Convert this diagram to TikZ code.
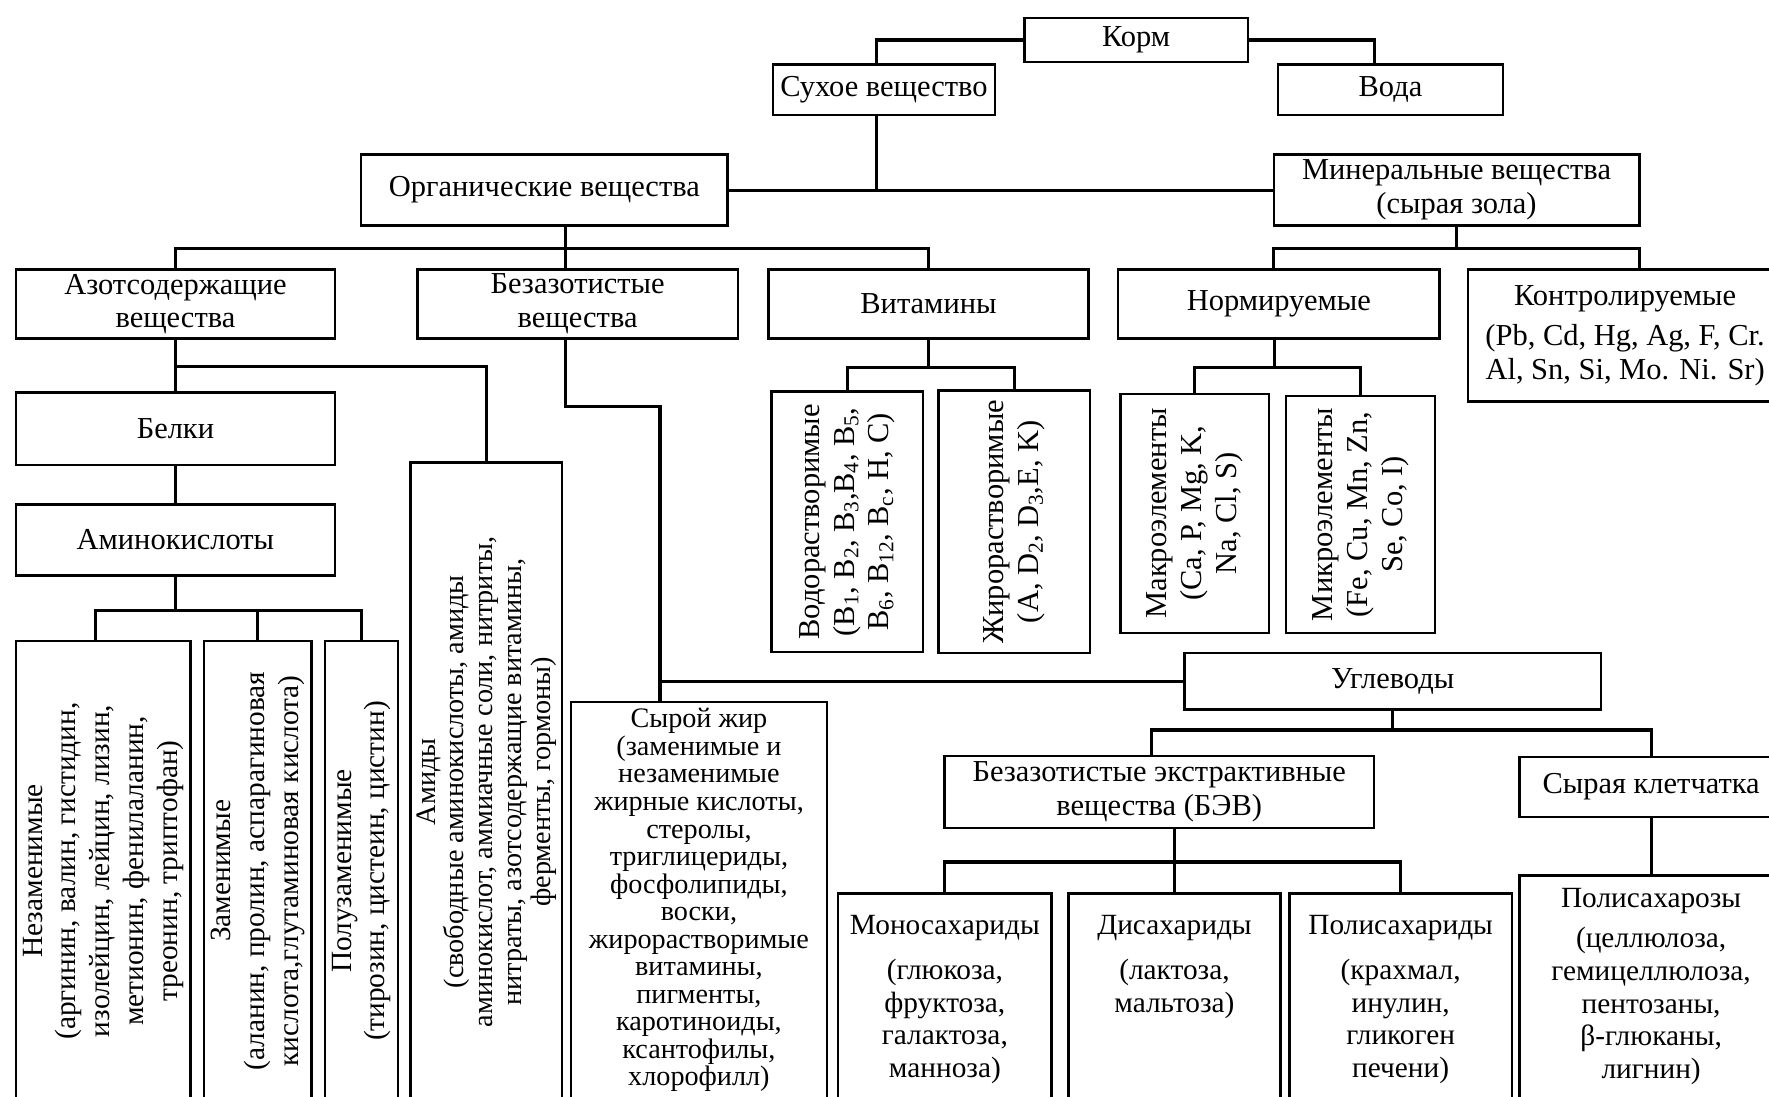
\documentclass[tikz,border=0pt]{standalone}
\usepackage{fontspec}
\setmainfont{Liberation Serif}
\usetikzlibrary{positioning}

\begin{document}
\begin{tikzpicture}[x=1pt, y=-1pt,
  tbox/.style={draw, line width=2.2pt, inner sep=0pt, align=center, font=\fontsize{27}{30}\selectfont},
  vtbox/.style={tbox, rotate=90, font=\fontsize{26}{30}\selectfont},
  txt/.style={inner sep=0pt, align=center, font=\fontsize{26}{29}\selectfont},
  link/.style={line width=2.8pt}]

    % Frame of the picture
    \useasboundingbox (0,0) rectangle (1568,972);
    \clip (0,0) rectangle (1568,972);

    % Top levels
    \node[tbox, minimum width=198pt, minimum height=39pt] (korm) at (1007,35.5) {Корм};
    \node[tbox, minimum width=197pt, minimum height=45pt] (dry) at (783.5,79.5) {Сухое вещество};
    \node[tbox, minimum width=199pt, minimum height=45pt] (water) at (1232.5,79.5) {Вода};
    \node[tbox, minimum width=325pt, minimum height=63pt] (org) at (482.5,168.5) {Органические вещества};
    \node[tbox, minimum width=324pt, minimum height=63pt] (mineral) at (1291,168.5) {Минеральные вещества\\(сырая зола)};

    % Third row
    \node[tbox, minimum width=283pt, minimum height=61pt] (azot) at (155.5,269.5) {Азотсодержащие\\вещества};
    \node[tbox, minimum width=284pt, minimum height=61pt] (bez) at (512,269.5) {Безазотистые\\вещества};
    \node[tbox, minimum width=284pt, minimum height=61pt] (vit) at (823,269.5) {Витамины};
    \node[tbox, minimum width=285pt, minimum height=61pt] (norm) at (1133.5,269.5) {Нормируемые};
    \node[tbox, minimum width=279pt, minimum height=117pt] (ctrl) at (1440.5,297.5)
        {Контролируемые\\[6pt](Pb, Cd, Hg, Ag, F, Cr.\\Al, Sn, Si, Mo. Ni. Sr)};

    % Nitrogen branch
    \node[tbox, minimum width=283pt, minimum height=64pt] (belki) at (155.5,380) {Белки};
    \node[tbox, minimum width=283pt, minimum height=63pt] (amino) at (155.5,478.5) {Аминокислоты};
    \node[vtbox, minimum width=408pt, minimum height=155pt] (nez) at (91.5,772)
        {Незаменимые\\(аргинин, валин, гистидин,\\изолейцин, лейцин, лизин,\\метионин, фенилаланин,\\треонин, триптофан)};
    \node[vtbox, minimum width=408pt, minimum height=95pt] (zam) at (228.5,772)
        {Заменимые\\(аланин, пролин, аспарагиновая\\кислота,глутаминовая кислота)};
    \node[vtbox, minimum width=408pt, minimum height=65pt] (polu) at (320.5,772)
        {Полузаменимые\\(тирозин, цистеин, цистин)};
    \node[vtbox, font=\fontsize{25}{25.5}\selectfont, minimum width=566pt, minimum height=134pt] (amid) at (431,693)
        {Амиды\\(свободные аминокислоты, амиды\\аминокислот, аммиачные соли, нитриты,\\нитраты, азотсодержащие витамины,\\ферменты, гормоны)};

    % Vitamins and minerals
    \node[vtbox, font=\fontsize{27}{31}\selectfont, minimum width=231pt, minimum height=134pt] (wsol) at (751,462.5)
        {Водорастворимые\\(B\textsubscript{1}, B\textsubscript{2}, B\textsubscript{3},B\textsubscript{4}, B\textsubscript{5},\\B\textsubscript{6}, B\textsubscript{12}, B\textsubscript{c}, H, C)};
    \node[vtbox, font=\fontsize{27}{31}\selectfont, minimum width=233pt, minimum height=134pt] (fsol) at (899,462.5)
        {Жирорастворимые\\(A, D\textsubscript{2}, D\textsubscript{3},E, K)};
    \node[vtbox, font=\fontsize{27}{31}\selectfont, minimum width=212pt, minimum height=132pt] (macro) at (1059,455)
        {Макроэлементы\\(Ca, P, Mg, K,\\Na, Cl, S)};
    \node[vtbox, font=\fontsize{27}{31}\selectfont, minimum width=210pt, minimum height=132pt] (micro) at (1206,456)
        {Микроэлементы\\(Fe, Cu, Mn, Zn,\\Se, Co, I)};

    % Fat and carbohydrates
    \node[tbox, minimum width=227pt, minimum height=354pt] (fat) at (619.5,799) {};
    \node[txt, font=\fontsize{25}{24.4}\selectfont, below=7pt of fat.north] (fat-t)
        {Сырой жир\\(заменимые и\\незаменимые\\жирные кислоты,\\стеролы,\\триглицериды,\\фосфолипиды,\\воски,\\жирорастворимые\\витамины,\\пигменты,\\каротиноиды,\\ксантофилы,\\хлорофилл)};
    \node[tbox, minimum width=369pt, minimum height=50pt] (ugl) at (1234.5,604) {Углеводы};
    \node[tbox, minimum width=381pt, minimum height=64pt] (bev) at (1027.5,702) {Безазотистые экстрактивные\\вещества (БЭВ)};
    \node[tbox, minimum width=233pt, minimum height=53pt] (kl) at (1463.5,697.5) {Сырая клетчатка};

    \node[tbox, minimum width=189pt, minimum height=184pt] (mono) at (837.5,884) {};
    \node[tbox, minimum width=188pt, minimum height=184pt] (di) at (1041,884) {};
    \node[tbox, minimum width=197pt, minimum height=184pt] (poly) at (1241.5,884) {};
    \node[tbox, minimum width=233pt, minimum height=200pt] (polz) at (1463.5,876) {};
    \node[txt, below=20pt of mono.north] (mono-t) {Моносахариды\\[11pt](глюкоза,\\фруктоза,\\галактоза,\\манноза)};
    \node[txt, below=20pt of di.north] (di-t) {Дисахариды\\[11pt](лактоза,\\мальтоза)};
    \node[txt, below=20pt of poly.north] (poly-t) {Полисахариды\\[11pt](крахмал,\\инулин,\\гликоген\\печени)};
    \node[txt, below=12pt of polz.north] (polz-t) {Полисахарозы\\[7pt](целлюлоза,\\гемицеллюлоза,\\пентозаны,\\β-глюканы,\\лигнин)};

    % Bus points
    \coordinate (dryaxis) at (777,0);
    \coordinate (orgbus) at (501,220);
    \coordinate (minbus) at (1291,220);
    \coordinate (azbus) at (155.5,325);
    \coordinate (aabus) at (155.5,541);
    \coordinate (bezturn) at (585,360);
    \coordinate (vitbus) at (823,326);
    \coordinate (normbus) at (1130,326);
    \coordinate (uglbus) at (1234.5,647);
    \coordinate (bevbus) at (1041,764);

    % Connectors
    \draw[link] (korm.west) -| (dry.north -| dryaxis);
    \draw[link] (korm.east) -| ([xshift=-14pt]water.north);
    \draw[link] (dry.south -| dryaxis) -- (org.east -| dryaxis);
    \draw[link] (org.east) -- (mineral.west);

    \draw[link] (org.south -| orgbus) -- (bez.north -| orgbus);
    \draw[link] (azot.north) |- (orgbus) -| (vit.north);
    \draw[link] (mineral.south) -- (minbus);
    \draw[link] ([xshift=-4.5pt]norm.north) |- (minbus) -| ([xshift=12.5pt]ctrl.north);

    \draw[link] (azot.south) -- (belki.north);
    \draw[link] (azbus) -| (amid.east);
    \draw[link] (belki.south) -- (amino.north);
    \draw[link] (amino.south) -- (aabus);
    \draw[link] ([xshift=-6.5pt]nez.east) |- (aabus) -| (polu.east);
    \draw[link] (zam.east) -- (zam.east |- aabus);

    \draw[link] (bez.south -| orgbus) |- (bezturn) -- (fat.north -| bezturn);
    \draw[link] (ugl.west) -- (ugl.west -| bezturn);

    \draw[link] (vit.south) -- (vitbus);
    \draw[link] (wsol.east) |- (vitbus) -| (fsol.east);
    \draw[link] (norm.south -| normbus) -- (normbus);
    \draw[link] (macro.east) |- (normbus) -| (micro.east);

    \draw[link] (ugl.south) -- (uglbus);
    \draw[link] ([xshift=-6.5pt]bev.north) |- (uglbus) -| (kl.north);
    \draw[link] (kl.south) -- (polz.north);
    \draw[link] (di.north |- bev.south) -- (di.north);
    \draw[link] (mono.north) |- (bevbus) -| (poly.north);

\end{tikzpicture}
\end{document}
